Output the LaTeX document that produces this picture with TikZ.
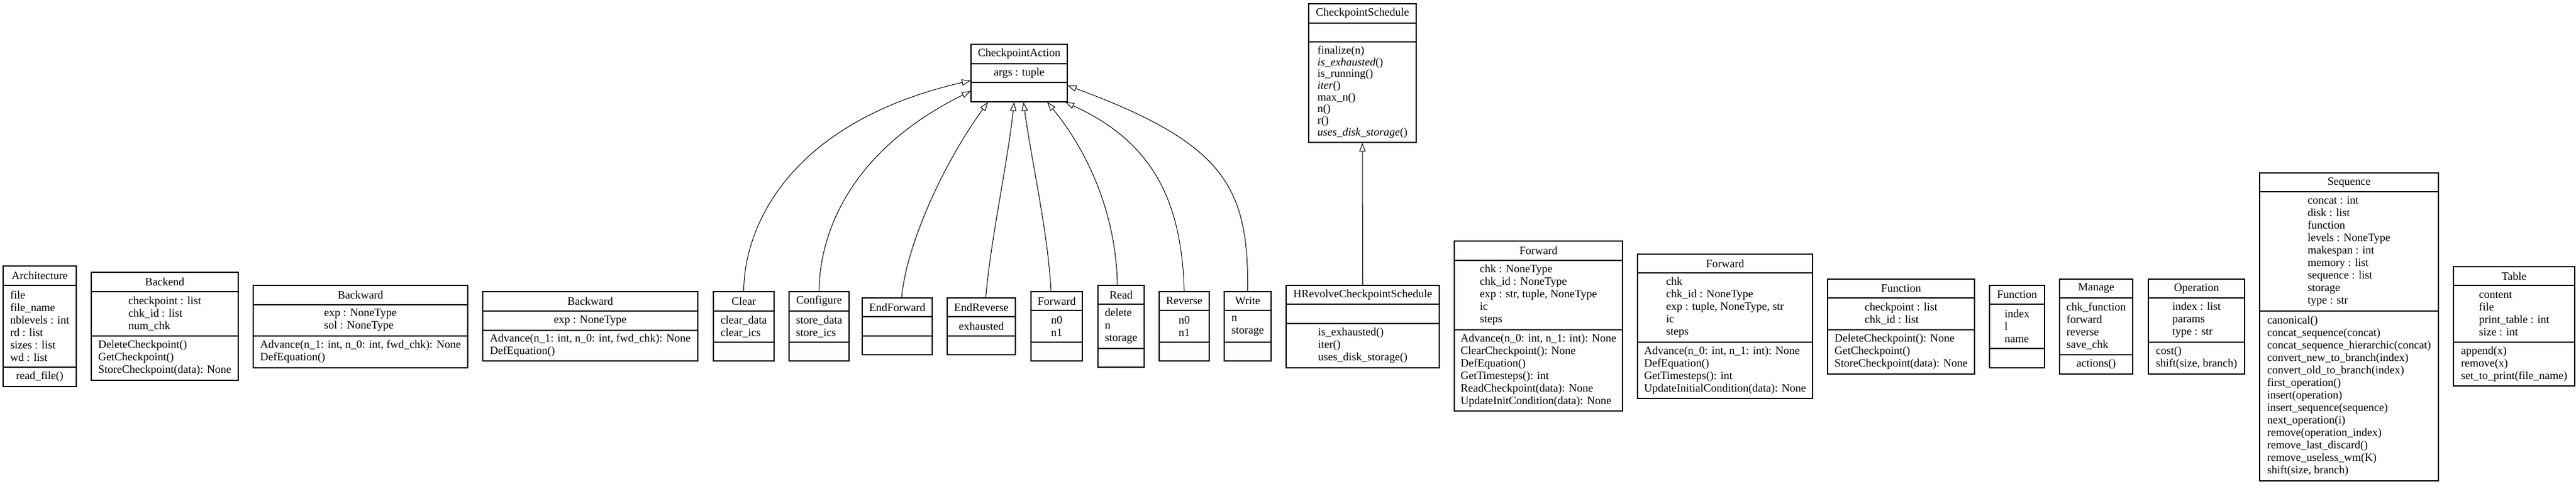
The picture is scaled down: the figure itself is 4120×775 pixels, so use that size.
\documentclass[tikz,border=0pt]{standalone}
\usepackage{fontspec}
\setmainfont{Liberation Serif}
\usetikzlibrary{arrows.meta,fit,calc}
\tikzset{
  classbox/.style={draw, line width=0.7pt, inner sep=0pt},
  sepline/.style={line width=0.7pt},
  classtext/.style={font=\fontsize{9}{10}\selectfont, align=left, inner sep=0pt},
  inherit/.style={line width=0.5pt, -{Triangle[open,length=7pt,width=5pt]}},
}
\def\umlgeom#1,#2,#3,#4,#5,#6\relax{\def\ux{#1}\def\uX{#2}\def\uy{#3}\def\uh{#4}\def\ua{#5}\def\uY{#6}}
% #1 ops style, #2 name, #3 geometry x1,x2,ytop,yhead,yattr,ybottom, #4 title, #5 attributes, #6 operations
\newcommand\umlclass[6][]{%
  \umlgeom#3\relax
  \node[classbox, fit={(\ux,\uy) (\uX,\uY)}] (#2) {};
  \draw[sepline] (\ux,\uh) -- (\uX,\uh);
  \draw[sepline] (\ux,\ua) -- (\uX,\ua);
  \node[classtext] (#2-name) at ({(\ux+\uX)/2},{(\uy+\uh)/2}) {#4};
  \node[classtext] (#2-attrs) at ({(\ux+\uX)/2},{(\uh+\ua)/2}) {#5};
  \node[classtext,#1] (#2-ops) at ({(\ux+\uX)/2},{(\ua+\uY)/2}) {#6};
}
\begin{document}
\begin{tikzpicture}[x=0.5pt,y=-0.5pt]
\useasboundingbox (0,0) rectangle (4120,775);

\umlclass{arch}{5,122,426,457,588,619}{Architecture}
  {file\\file\_name\\nblevels : int\\rd : list\\sizes : list\\wd : list}{read\_file()}
\umlclass{backend}{146,381,436,467,538,609}{Backend}
  {checkpoint : list\\chk\_id : list\\num\_chk}{DeleteCheckpoint()\\GetCheckpoint()\\StoreCheckpoint(data): None}
\umlclass{bwa}{405,748,457,488,538,589}{Backward}
  {exp : NoneType\\sol : NoneType}{Advance(n\_1: int, n\_0: int, fwd\_chk): None\\DefEquation()}
\umlclass{bwb}{772,1116,467,498,529,578}{Backward}
  {exp : NoneType}{Advance(n\_1: int, n\_0: int, fwd\_chk): None\\DefEquation()}
\umlclass{clear}{1141,1238,467,498,548,578}{Clear}{clear\_data\\clear\_ics}{}
\umlclass{configure}{1262,1358,467,498,548,578}{Configure}{store\_data\\store\_ics}{}
\umlclass{ca}{1553,1707,71,102,132,163}{CheckpointAction}{args : tuple}{}
\umlclass{ef}{1379,1491,477,507,538,568}{EndForward}{}{}
\umlclass{er}{1515,1624,477,507,538,568}{EndReverse}{exhausted}{}
\umlclass{fwa}{1649,1731,467,497,548,578}{Forward}{n0\\n1}{}
\umlclass{read}{1756,1830,457,487,558,588}{Read}{delete\\n\\storage}{}
\umlclass{rev}{1854,1934,467,497,548,578}{Reverse}{n0\\n1}{}
\umlclass{write}{1958,2033,467,497,548,578}{Write}{n\\storage}{}
\umlclass[font=\fontsize{9}{9.35}\selectfont]{cs}{2093,2265,6,37,67,228}{CheckpointSchedule}{}
  {finalize(n)\\\textit{is\_exhausted}()\\is\_running()\\\textit{iter}()\\max\_n()\\n()\\r()\\\textit{uses\_disk\_storage}()}
\umlclass{hr}{2057,2302,457,487,518,589}{HRevolveCheckpointSchedule}{}
  {is\_exhausted()\\iter()\\uses\_disk\_storage()}
\umlclass{fwb}{2326,2595,386,417,528,658}{Forward}
  {chk : NoneType\\chk\_id : NoneType\\exp : str, tuple, NoneType\\ic\\steps}
  {Advance(n\_0: int, n\_1: int): None\\ClearCheckpoint(): None\\DefEquation()\\GetTimesteps(): int\\ReadCheckpoint(data): None\\UpdateInitCondition(data): None}
\umlclass{fwc}{2619,2899,407,437,548,638}{Forward}
  {chk\\chk\_id : NoneType\\exp : tuple, NoneType, str\\ic\\steps}
  {Advance(n\_0: int, n\_1: int): None\\DefEquation()\\GetTimesteps(): int\\UpdateInitialCondition(data): None}
\umlclass{funa}{2923,3158,447,477,528,599}{Function}
  {checkpoint : list\\chk\_id : list}{DeleteCheckpoint(): None\\GetCheckpoint()\\StoreCheckpoint(data): None}
\umlclass{funb}{3182,3270,457,487,558,589}{Function}{index\\l\\name}{}
\umlclass{manage}{3294,3411,447,477,568,599}{Manage}{chk\_function\\forward\\reverse\\save\_chk}{actions()}
\umlclass{op}{3436,3590,447,477,548,599}{Operation}{index : list\\params\\type : str}{cost()\\shift(size, branch)}
\umlclass{seq}{3614,3900,277,307,498,770}{Sequence}
  {concat : int\\disk : list\\function\\levels : NoneType\\makespan : int\\memory : list\\sequence : list\\storage\\type : str}
  {canonical()\\concat\_sequence(concat)\\concat\_sequence\_hierarchic(concat)\\convert\_new\_to\_branch(index)\\convert\_old\_to\_branch(index)\\first\_operation()\\insert(operation)\\insert\_sequence(sequence)\\next\_operation(i)\\remove(operation\_index)\\remove\_last\_discard()\\remove\_useless\_wm(K)\\shift(size, branch)}
\umlclass{table}{3924,4118,427,457,548,618}{Table}
  {content\\file\\print\_table : int\\size : int}{append(x)\\remove(x)\\set\_to\_print(file\_name)}

% inheritance
\draw[inherit] (clear.north) .. controls (1190,360) and (1265,195) .. ($(ca.west)+(0,12)$);
\draw[inherit] (configure.north) .. controls (1311,370) and (1362,240) .. ($(ca.west)+(0,29)$);
\draw[inherit] ($(ef.north)+(7,0)$) .. controls (1450,390) and (1510,260) .. ($(ca.south)+(-50,0)$);
\draw[inherit] ($(er.north)+(7,0)$) .. controls (1585,380) and (1610,270) .. ($(ca.south)+(-8,0)$);
\draw[inherit] ($(fwa.north)+(-9,0)$) .. controls (1676,370) and (1650,260) .. ($(ca.south)+(7,0)$);
\draw[inherit] ($(read.north)+(-6,0)$) .. controls (1785,330) and (1730,230) .. ($(ca.south)+(45,0)$);
\draw[inherit] (rev.north) .. controls (1890,330) and (1850,230) .. ($(ca.south)+(74,0)$);
\draw[inherit] (write.north) .. controls (1997,300) and (1960,230) .. ($(ca.east)+(0,20)$);
\draw[inherit] (hr.north) -- (cs.south);
\end{tikzpicture}
\end{document}
